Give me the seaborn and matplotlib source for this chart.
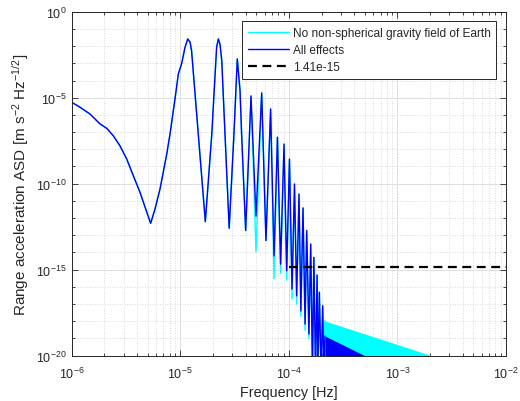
import numpy as np
import pandas as pd
import matplotlib
matplotlib.use("Agg")
import matplotlib.pyplot as plt
import seaborn as sns
from matplotlib.ticker import FixedLocator, NullFormatter, LogFormatterSciNotation

# values (Hz, m s^-2 Hz^-1/2)
freq = [1.0e-6, 1.19e-6, 1.47e-6, 1.82e-6, 2.10e-6, 2.41e-6, 2.78e-6, 3.21e-6,
        3.69e-6, 4.25e-6, 4.91e-6, 5.33e-6, 5.85e-6, 6.50e-6, 7.50e-6, 8.04e-6,
        8.93e-6, 9.59e-6, 1.03e-5, 1.105e-5, 1.17e-5, 1.23e-5, 1.27e-5, 1.70e-5,
        1.95e-5, 2.16e-5, 2.24e-5, 2.32e-5, 2.41e-5, 2.58e-5, 2.82e-5, 3.12e-5,
        3.35e-5, 3.55e-5, 3.67e-5, 4.00e-5, 4.48e-5, 4.98e-5, 5.62e-5, 6.15e-5,
        6.79e-5, 7.30e-5, 7.85e-5, 8.39e-5, 9.02e-5, 9.55e-5, 1.013e-4, 1.07e-4,
        1.127e-4, 1.18e-4, 1.24e-4, 1.29e-4, 1.35e-4, 1.41e-4, 1.46e-4, 1.53e-4,
        1.59e-4, 1.65e-4, 1.70e-4, 1.76e-4, 1.82e-4, 1.85e-4, 1.91e-4, 1.98e-4,
        2.05e-4, 2.10e-4, 2.15e-4]
asd_all = [5.4e-6, 2.8e-6, 1.13e-6, 3.0e-7, 1.66e-7, 6.2e-8, 1.6e-8, 2.7e-9,
           2.9e-10, 3.2e-11, 2.2e-12, 5.0e-13, 3.4e-12, 4.9e-11, 5.3e-9, 7.8e-8,
           8.4e-6, 2.4e-4, 1.0e-3, 8.5e-3, 2.6e-2, 1.7e-2, 5.4e-3, 6.2e-13,
           7.8e-8, 8.5e-3, 2.6e-2, 1.3e-2, 1.4e-3, 7.8e-8, 2.6e-13, 7.8e-8,
           1.8e-3, 2.55e-5, 7.8e-8, 1.9e-13, 1.26e-5, 1.3e-12, 1.9e-5, 4.9e-14,
           2.2e-6, 6.3e-15, 5.0e-8, 2.1e-15, 2.0e-8, 8.7e-16, 2.7e-9, 7.6e-17,
           9.6e-11, 3.0e-17, 2.5e-11, 4.0e-18, 3.9e-12, 6.9e-19, 1.9e-13, 1.8e-19,
           3.1e-14, 1e-21, 5.2e-15, 1e-21, 4.9e-16, 1e-21, 4.9e-17, 1e-21,
           8.1e-18, 1e-21, 1.4e-19]
asd_nograv = [5.4e-6, 2.8e-6, 1.13e-6, 3.0e-7, 1.66e-7, 6.2e-8, 1.6e-8, 2.7e-9,
              2.9e-10, 3.2e-11, 2.2e-12, 5.0e-13, 3.4e-12, 4.9e-11, 5.3e-9, 7.8e-8,
              8.4e-6, 2.4e-4, 1.0e-3, 8.5e-3, 2.6e-2, 1.7e-2, 5.4e-3, 6.2e-13,
              7.8e-8, 8.5e-3, 2.6e-2, 1.3e-2, 1.4e-3, 7.8e-8, 2.6e-13, 7.8e-8,
              1.8e-3, 2.55e-5, 7.8e-8, 1.9e-13, 1.26e-5, 1.1e-14, 1.9e-5, 4.9e-14,
              2.2e-6, 2.9e-16, 5.0e-8, 6.3e-16, 2.0e-8, 2.5e-16, 2.7e-9, 2.0e-17,
              9.6e-11, 1.0e-17, 2.5e-11, 2.0e-18, 3.9e-12, 3.0e-19, 1.9e-13, 1.0e-19,
              3.1e-14, 1e-21, 5.2e-15, 1e-21, 4.9e-16, 1e-21, 4.9e-17, 1e-21,
              8.1e-18, 1e-21, 1.1e-18]

# dense high-frequency comb: upper envelope only
tail_nograv_f = [2.1e-4, 2.07e-3]
tail_nograv_a = [1.1e-18, 1e-20]
tail_all_f = [2.15e-4, 5.0e-4]
tail_all_a = [1.4e-19, 1e-20]

threshold = 1.41e-15
threshold_f = [1e-4, 1e-2]

labels = ["No non-spherical gravity field of Earth", "All effects", "1.41e-15"]

sns.set_theme(style="ticks")
plt.rcParams["font.family"] = ["Liberation Sans", "DejaVu Sans"]
plt.rcParams["mathtext.fontset"] = "custom"
plt.rcParams["mathtext.rm"] = "Liberation Sans"
plt.rcParams["mathtext.it"] = "Liberation Sans:italic"
plt.rcParams["mathtext.default"] = "regular"

ink = "#262626"
df = pd.DataFrame({"f": freq, "all": asd_all, "nograv": asd_nograv})

fig = plt.figure(figsize=(5.2, 4.02), dpi=100)
ax = fig.add_axes([0.138, 0.1127, 0.835, 0.8557])

sns.lineplot(data=df, x="f", y="nograv", ax=ax, color="cyan", lw=1.0,
             estimator=None, sort=False, label=labels[0])
ax.fill_between(tail_nograv_f, tail_nograv_a, 1e-22, color="cyan", lw=0)
sns.lineplot(data=df, x="f", y="all", ax=ax, color="blue", lw=1.0,
             estimator=None, sort=False, label=labels[1])
ax.fill_between(tail_all_f, tail_all_a, 1e-22, color="blue", lw=0)
ax.plot(threshold_f, [threshold, threshold], color="black", lw=1.6,
        ls=(0, (4, 2.5)), label=labels[2])

ax.set(xscale="log", yscale="log")
ax.set_xlim(1e-6, 1e-2)
ax.set_ylim(1e-20, 1e0)

ax.set_xticks([1e-6, 1e-5, 1e-4, 1e-3, 1e-2])
ax.set_yticks([1e-20, 1e-15, 1e-10, 1e-5, 1e0])
ax.yaxis.set_minor_locator(FixedLocator(10.0 ** np.arange(-20, 1)))
ax.yaxis.set_minor_formatter(NullFormatter())
ax.xaxis.set_major_formatter(LogFormatterSciNotation())
ax.yaxis.set_major_formatter(LogFormatterSciNotation())

ax.grid(True, which="major", color="#dedede", lw=0.7, ls="-")
ax.grid(True, which="minor", color="#cccccc", lw=0.6, ls=(0, (1, 2)))
ax.set_axisbelow(True)

ax.tick_params(which="both", direction="in", top=True, right=True,
               colors=ink, labelsize=9, width=0.6)
ax.tick_params(which="major", length=4.5)
ax.tick_params(which="minor", length=2.5)
ax.tick_params(axis="x", which="major", pad=7)
for s in ax.spines.values():
    s.set_color(ink)
    s.set_linewidth(0.7)

ax.set_xlabel("Frequency [Hz]", fontsize=10.4, color=ink, labelpad=3)
ax.set_ylabel(r"Range acceleration ASD [m s$^{-2}$ Hz$^{-1/2}$]", fontsize=11, color=ink)

leg = ax.legend(loc="upper right", fontsize=8.6, frameon=True, fancybox=False,
                framealpha=1, edgecolor=ink, handlelength=3.4, handletextpad=0.3,
                labelspacing=0.42, borderaxespad=0.8, borderpad=0.5)
leg.get_frame().set_linewidth(0.7)

fig.savefig("out.png", dpi=100)
